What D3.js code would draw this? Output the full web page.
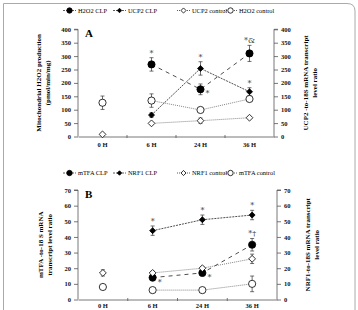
<!DOCTYPE html>
<html>
<head>
<meta charset="utf-8">
<script src="https://cdn.jsdelivr.net/npm/d3@7"></script>
<style>
  body { margin: 0; background: #fff; }
  svg text { font-family: "Liberation Serif", "Times New Roman", serif; }
</style>
</head>
<body>
<script>
const times = ['0 H', '6 H', '24 H', '36 H'];

// Panel A
const h2o2Clp = [null, 269, 176, 310];
const h2o2ClpErr = [0, 25, 20, 30];
const ucp2Clp = [null, 80, 254, 167];
const ucp2ClpErr = [0, 8, 25, 15];
const ucp2Ctrl = [8, 49, 59, 70];
const ucp2CtrlErr = [0, 0, 10, 0];
const h2o2Ctrl = [126, 134, 99, 140];
const h2o2CtrlErr = [25, 25, 8, 8];
const yTicksA = [0, 50, 100, 150, 200, 250, 300, 350, 400];

// Panel B
const mtfaClp = [null, 14, 17, 35];
const mtfaClpErr = [0, 2, 2, 4];
const nrf1Clp = [null, 44, 51, 54];
const nrf1ClpErr = [0, 3, 3, 3];
const nrf1Ctrl = [17, 17, 20, 26];
const nrf1CtrlErr = [2, 1, 1, 3];
const mtfaCtrl = [8, 6, 6, 10];
const mtfaCtrlErr = [1, 1, 1, 5];
const yTicksB = [0, 10, 20, 30, 40, 50, 60, 70];

const svg = d3.select('body').append('svg')
  .attr('width', 358)
  .attr('height', 310);

svg.append('rect').attr('width', 358).attr('height', 310).attr('fill', '#fff');

// outer frame
svg.append('path')
  .attr('d', 'M3.5,330 L3.5,3.5 L347,3.5 Q355,3.5 355,11 L355,330')
  .attr('fill', 'none')
  .attr('stroke', '#aaa')
  .attr('stroke-width', 1);

const styles = {
  clpBig: { dash: '4,4', marker: 'circle', fill: '#000', r: 3.6 },
  clpSmall: { dash: '2,1', marker: 'diamond', fill: '#000', r: 3 },
  ctrlDiamond: { dash: '1,1', marker: 'diamond', fill: '#fff', r: 3.4 },
  ctrlCircle: { dash: '1,1', marker: 'circle', fill: '#fff', r: 3.6 }
};

function drawMarker(g, type, cx, cy, st, k = 1) {
  const r = st.r * k;
  if (type === 'circle') {
    g.append('circle').attr('cx', cx).attr('cy', cy).attr('r', r)
      .attr('fill', st.fill).attr('stroke', '#000').attr('stroke-width', 0.8);
  } else {
    g.append('path')
      .attr('d', `M${cx},${cy - r}L${cx + r},${cy}L${cx},${cy + r}L${cx - r},${cy}Z`)
      .attr('fill', st.fill).attr('stroke', '#000').attr('stroke-width', 0.8);
  }
}

function drawPanel(cfg) {
  const g = svg.append('g');
  const x = d3.scaleBand().domain(times).range([cfg.x0, cfg.x1]);
  const y = d3.scaleLinear().domain([0, cfg.yMax]).range([cfg.y0, cfg.y1]);
  const cx = t => x(t) + x.bandwidth() / 2;

  // axes
  const axL = g.append('g').attr('transform', `translate(${cfg.x0},0)`)
    .call(d3.axisLeft(y).tickValues(cfg.ticks).tickSize(4).tickPadding(3));
  const axR = g.append('g').attr('transform', `translate(${cfg.x1},0)`)
    .call(d3.axisRight(y).tickValues(cfg.ticks).tickSize(4).tickPadding(3));
  const axX = g.append('g').attr('transform', `translate(0,${cfg.y0})`)
    .call(d3.axisBottom(x).tickSize(0).tickPadding(cfg.xPad));
  [axL, axR, axX].forEach(a => {
    a.select('.domain').attr('stroke', '#555').attr('stroke-width', 0.8);
    a.selectAll('.tick line').attr('stroke', '#555').attr('stroke-width', 0.8);
    a.selectAll('text').style('font-size', '6.5px').style('font-weight', 'bold')
      .style('font-family', '"Liberation Serif", serif').attr('fill', '#111');
  });
  axL.select('.domain').attr('d', `M-4,${cfg.y1}H0V${cfg.y0}`);
  axR.select('.domain').attr('d', `M4,${cfg.y1}H0V${cfg.y0}`);
  // small ticks between categories
  times.slice(1).forEach(t => {
    g.append('line').attr('x1', x(t)).attr('x2', x(t))
      .attr('y1', cfg.y0 - 1.5).attr('y2', cfg.y0 + 1.5)
      .attr('stroke', '#555').attr('stroke-width', 0.8);
  });

  // panel letter
  g.append('text').attr('x', cfg.x0 + 7).attr('y', cfg.y1 + 8)
    .style('font-size', '11px').style('font-weight', 'bold').text(cfg.letter);

  // axis titles
  const tl = g.append('text')
    .attr('transform', `translate(${cfg.titleLx},${(cfg.y0 + cfg.y1) / 2}) rotate(-90)`)
    .attr('text-anchor', 'middle')
    .style('font-size', '7px').style('font-weight', 'bold');
  cfg.titleL.forEach((s, i) => tl.append('tspan').attr('x', 0).attr('dy', i ? 9 : 0).text(s));
  const tr = g.append('text')
    .attr('transform', `translate(${cfg.titleRx},${(cfg.y0 + cfg.y1) / 2}) rotate(-90)`)
    .attr('text-anchor', 'middle')
    .style('font-size', '7px').style('font-weight', 'bold');
  cfg.titleR.forEach((s, i) => tr.append('tspan').attr('x', 0).attr('dy', i ? 9 : 0).text(s));

  // series
  cfg.series.forEach(s => {
    const st = styles[s.style];
    const pts = times.map((t, i) => ({ t, v: s.values[i], e: s.err[i], i }))
      .filter(d => d.v !== null);
    const linePts = pts.filter(d => d.i > 0);
    g.append('path')
      .datum(linePts)
      .attr('fill', 'none')
      .attr('stroke', s.style.startsWith('ctrl') ? '#666' : '#222')
      .attr('stroke-width', 0.8)
      .attr('stroke-dasharray', st.dash)
      .attr('d', d3.line().x(d => cx(d.t)).y(d => y(d.v)));
    pts.forEach(d => {
      if (d.e > 0) {
        const xx = cx(d.t);
        g.append('path')
          .attr('d', `M${xx},${y(d.v - d.e)}V${y(d.v + d.e)}M${xx - 2},${y(d.v - d.e)}H${xx + 2}M${xx - 2},${y(d.v + d.e)}H${xx + 2}`)
          .attr('stroke', '#333').attr('stroke-width', 0.7).attr('fill', 'none');
      }
    });
    pts.forEach(d => drawMarker(g, st.marker, cx(d.t), y(d.v), st));

    // significance marks
    (s.marks || []).forEach((m, i) => {
      if (!m) return;
      const xx = cx(times[i]);
      const v = s.values[i];
      const txt = g.append('text').style('font-size', '8px').attr('fill', '#333')
        .style('font-family', '"DejaVu Serif", "Liberation Serif", serif');
      if (m.pos === 'above') {
        txt.attr('x', xx).attr('y', y(v + s.err[i]) - 2).attr('text-anchor', 'middle');
      } else {
        txt.attr('x', xx + 5).attr('y', y(v) + 7).attr('text-anchor', 'start');
      }
      txt.text(m.text);
    });
  });

  // legend
  const lg = g.append('g');
  cfg.series.forEach((s, i) => {
    const st = styles[s.style];
    const lx = cfg.legendX[i];
    lg.append('line').attr('x1', lx).attr('x2', lx + 13)
      .attr('y1', cfg.legendY).attr('y2', cfg.legendY)
      .attr('stroke', '#333').attr('stroke-width', 0.8)
      .attr('stroke-dasharray', s.style.startsWith('ctrl') ? '1,1' : '2,1');
    drawMarker(lg, st.marker, lx + 6.5, cfg.legendY, st, 0.75);
    lg.append('text').attr('x', lx + 15).attr('y', cfg.legendY + 2.2)
      .style('font-size', '6.4px').style('font-weight', 'normal')
      .attr('fill', '#000').text(s.name);
  });
}

drawPanel({
  letter: 'A', x0: 78, x1: 274, y0: 136.5, y1: 29.3, yMax: 400, ticks: yTicksA, xPad: 6,
  titleL: ['Mitochondrial H2O2 production', '(pmol/min/mg)'], titleLx: 41,
  titleR: ['UCP2 -to-18S  mRNA transcript', 'level ratio'], titleRx: 308,
  legendY: 10.5, legendX: [63, 113, 177, 224],
  series: [
    { name: 'H2O2 CLP', style: 'clpBig', values: h2o2Clp, err: h2o2ClpErr,
      marks: [null, { text: '*', pos: 'above' }, { text: '*', pos: 'right' }, { text: '*&', pos: 'above' }] },
    { name: 'UCP2 CLP', style: 'clpSmall', values: ucp2Clp, err: ucp2ClpErr,
      marks: [null, null, { text: '*', pos: 'above' }, { text: '*', pos: 'above' }] },
    { name: 'UCP2 control', style: 'ctrlDiamond', values: ucp2Ctrl, err: ucp2CtrlErr },
    { name: 'H2O2 control', style: 'ctrlCircle', values: h2o2Ctrl, err: h2o2CtrlErr }
  ]
});

drawPanel({
  letter: 'B', x0: 78, x1: 277, y0: 299.5, y1: 190, yMax: 70, ticks: yTicksB, xPad: 3.5,
  titleL: ['mTFA -to-18 S mRNA', 'transcript level ratio'], titleLx: 43,
  titleR: ['NRF1-to-18S mRNA transcript', 'level ratio'], titleRx: 310,
  legendY: 173, legendX: [63, 113, 177, 224],
  series: [
    { name: 'mTFA CLP', style: 'clpBig', values: mtfaClp, err: mtfaClpErr,
      marks: [null, { text: '*', pos: 'right' }, { text: '*', pos: 'right' }, { text: '*†', pos: 'above' }] },
    { name: 'NRF1 CLP', style: 'clpSmall', values: nrf1Clp, err: nrf1ClpErr,
      marks: [null, { text: '*', pos: 'above' }, { text: '*', pos: 'above' }, { text: '*', pos: 'above' }] },
    { name: 'NRF1 control', style: 'ctrlDiamond', values: nrf1Ctrl, err: nrf1CtrlErr },
    { name: 'mTFA control', style: 'ctrlCircle', values: mtfaCtrl, err: mtfaCtrlErr }
  ]
});
</script>
</body>
</html>
